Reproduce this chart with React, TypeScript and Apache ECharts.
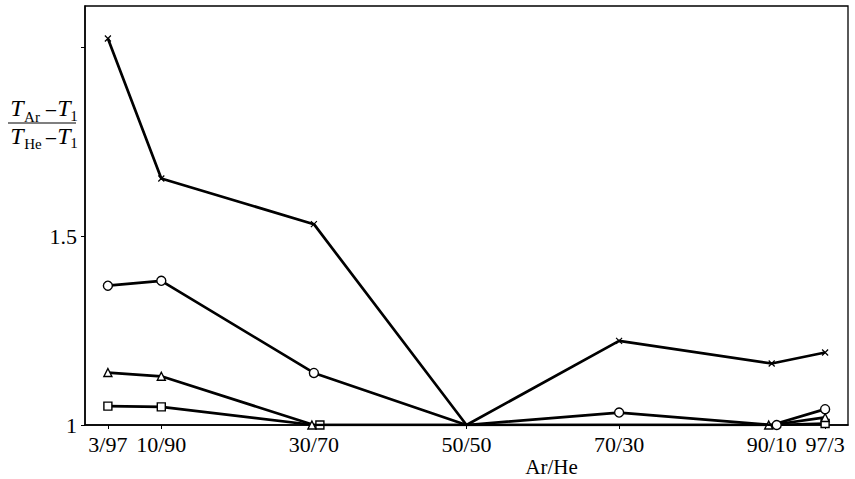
import React, { useEffect, useRef } from "react";
import * as echarts from "echarts";

// Ar percentage in the Ar/He mixture and the matching tick labels
const arFraction = [3, 10, 30, 50, 70, 90, 97];
const ratioLabels = ["3/97", "10/90", "30/70", "50/50", "70/30", "90/10", "97/3"];

// (T_Ar - T_1) / (T_He - T_1) for the four data sets
const crossValues = [2.024, 1.653, 1.532, 1.0, 1.223, 1.163, 1.192];
const circleValues = [1.369, 1.382, 1.138, 1.0, 1.033, 1.0, 1.042];
const triangleValues = [1.139, 1.129, 1.0, 1.0, 1.0, 1.0, 1.02];
const squareValues = [1.05, 1.048, 1.0, 1.0, 1.0, 1.0, 1.004];

// which points carry a visible marker
const crossMarked = [true, true, true, false, true, true, true];
const circleMarked = [true, true, true, false, true, true, true];
const triangleMarked = [true, true, true, false, false, true, true];
const squareMarked = [true, true, true, false, false, false, true];

const yTicks = [1, 1.5, 2];
const yLabels = [1, 1.5];

const SERIF = "'Liberation Serif', 'DejaVu Serif', serif";

function buildData(values: number[], marked: boolean[], shifts: Record<number, number> = {}) {
  return arFraction.map((x, i) => {
    const item: any = { value: [x, values[i]] };
    if (!marked[i]) item.symbol = "none";
    if (shifts[i] !== undefined) item.symbolOffset = [shifts[i], 0];
    return item;
  });
}

export default function App() {
  const ref = useRef<HTMLDivElement>(null);

  useEffect(() => {
    document.body.style.margin = "0";
    if (!ref.current) return;
    const chart = echarts.init(ref.current, null, { renderer: "svg" });

    const lineStyle = { color: "#000", width: 2.7 };
    const hollow = { color: "#fff", borderColor: "#000", borderWidth: 1.4 };

    const sub = (text: string, x: number, y: number, size: number, italic = false) => ({
      type: "text",
      style: {
        text,
        x,
        y,
        font: `${italic ? "italic " : ""}${size}px ${SERIF}`,
        fill: "#000",
        textAlign: "center",
        textVerticalAlign: "middle",
      },
    });

    chart.setOption({
      animation: false,
      backgroundColor: "#fff",
      grid: {
        left: 85,
        right: 7,
        top: 6,
        bottom: 54,
        outerBoundsMode: "none",
        containLabel: false,
        show: true,
        borderColor: "#000",
        borderWidth: 1.3,
      },
      xAxis: {
        type: "value",
        min: 0,
        max: 100,
        name: "Ar/He",
        nameLocation: "middle",
        nameGap: 31,
        nameMoveOverlap: false,
        nameTextStyle: { fontFamily: SERIF, fontSize: 21, color: "#000", padding: [0, 0, 0, 170] },
        splitLine: { show: false },
        axisLine: { lineStyle: { color: "#000", width: 1.5 } },
        axisTick: {
          show: true,
          inside: false,
          length: 4,
          customValues: arFraction,
          lineStyle: { color: "#000", width: 1 },
        },
        axisLabel: {
          customValues: arFraction,
          margin: 8,
          fontFamily: SERIF,
          fontSize: 22,
          color: "#000",
          formatter: (v: number) => {
            const i = arFraction.indexOf(Math.round(v));
            return i >= 0 ? ratioLabels[i] : "";
          },
        },
      },
      yAxis: {
        type: "value",
        min: 1,
        max: 2.11,
        splitLine: { show: false },
        axisLine: { lineStyle: { color: "#000", width: 1.5 } },
        axisTick: {
          show: true,
          inside: false,
          length: 4,
          customValues: yTicks,
          lineStyle: { color: "#000", width: 1 },
        },
        axisLabel: {
          customValues: yLabels,
          margin: 8,
          fontFamily: SERIF,
          fontSize: 22,
          color: "#000",
          formatter: (v: number) => String(v),
        },
      },
      series: [
        {
          type: "line",
          data: buildData(squareValues, squareMarked, { 2: 6 }),
          symbol: "rect",
          symbolSize: 8,
          lineStyle,
          itemStyle: hollow,
          z: 2,
        },
        {
          type: "line",
          data: buildData(triangleValues, triangleMarked, { 2: -2, 5: -3 }),
          symbol: "triangle",
          symbolSize: 8,
          lineStyle,
          itemStyle: hollow,
          z: 3,
        },
        {
          type: "line",
          data: buildData(circleValues, circleMarked, { 5: 5 }),
          symbol: "circle",
          symbolSize: 9,
          lineStyle,
          itemStyle: hollow,
          z: 4,
        },
        {
          type: "line",
          data: buildData(crossValues, crossMarked),
          symbol: "path://M0 0L10 10M10 0L0 10",
          symbolSize: 6,
          lineStyle,
          itemStyle: { color: "#000", borderColor: "#000", borderWidth: 1.2 },
          z: 5,
        },
      ],
      graphic: [
        {
          type: "group",
          children: [
            sub("T", 17, 108, 24, true),
            sub("Ar", 32, 117, 15),
            sub("\u2212", 51, 110, 22),
            sub("T", 64, 108, 24, true),
            sub("1", 74, 116, 15),
            {
              type: "line",
              shape: { x1: 8, y1: 123, x2: 76, y2: 123 },
              style: { stroke: "#000", lineWidth: 1.2 },
            },
            sub("T", 17, 136, 24, true),
            sub("He", 33, 144, 15),
            sub("\u2212", 51, 138, 22),
            sub("T", 64, 136, 24, true),
            sub("1", 74, 143, 15),
          ],
        },
      ],
    });

    return () => chart.dispose();
  }, []);

  return <div ref={ref} style={{ width: 855, height: 479 }} />;
}
